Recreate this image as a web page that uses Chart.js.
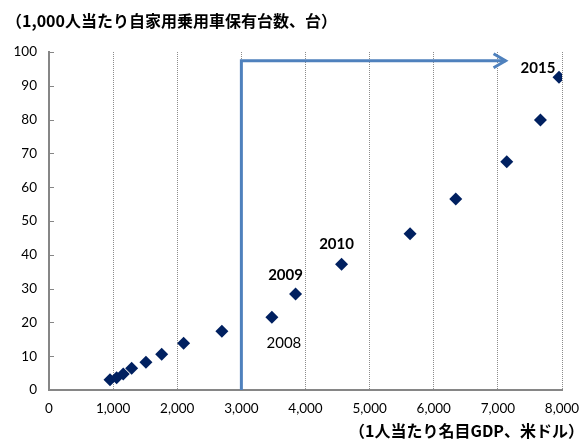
<!DOCTYPE html>
<html>
<head>
<meta charset="utf-8">
<script src="https://cdn.jsdelivr.net/npm/chart.js@4/dist/chart.umd.min.js"></script>
<style>
  html, body { margin: 0; padding: 0; background: #fff; }
  #wrap { width: 579px; height: 439px; }
</style>
</head>
<body>
<div id="wrap"><canvas id="c" width="579" height="439"></canvas></div>
<script>
// Per-capita nominal GDP (USD) and private passenger cars per 1,000 people, 2000–2015
const years = [2000, 2001, 2002, 2003, 2004, 2005, 2006, 2007, 2008, 2009, 2010, 2011, 2012, 2013, 2014, 2015];
const gdpPerCapita = [951, 1055, 1158, 1289, 1512, 1757, 2099, 2696, 3476, 3845, 4562, 5631, 6343, 7138, 7664, 7953];
const carsPer1000 = [3.0, 3.6, 4.7, 6.4, 8.2, 10.6, 13.8, 17.4, 21.5, 28.4, 37.2, 46.2, 56.5, 67.5, 79.9, 92.5];

// Years that carry a text label next to their marker
const labelledYears = [2008, 2009, 2010, 2015];
const boldYears = [2009, 2010, 2015];

// Guide arrow: up from 3,000 USD, then across to the right
const arrowX = [3000, 3000, 7120];
const arrowY = [0, 97.4, 97.4];

// Axis ranges and tick steps
const xRange = [0, 8000];
const xStep = 1000;
const yRange = [0, 100];
const yStep = 10;

const yTitle = '（1,000人当たり自家用乗用車保有台数、台）';
const xTitle = '（1人当たり名目GDP、米ドル）';

const NAVY = '#002060';
const BLUE = '#4f81bd';
const AXIS = '#868686';
const LATIN = 'Lato, "Liberation Sans", sans-serif';
const CJK = '"Noto Sans CJK JP", "Noto Sans", sans-serif';

const points = gdpPerCapita.map((x, i) => ({ x, y: carsPer1000[i] }));
const arrowPts = arrowX.map((x, i) => ({ x, y: arrowY[i] }));

// Year label placement relative to the marker (pixels)
const labelOffset = { 2008: [12, 26], 2009: [-10, -19], 2010: [-5, -20], 2015: [-21, -9] };

const decorations = {
  id: 'decorations',
  afterDraw(chart) {
    const { ctx, scales } = chart;
    const xs = scales.x, ys = scales.y;
    ctx.save();

    // inward tick marks on the value axis
    ctx.strokeStyle = AXIS;
    ctx.lineWidth = 1;
    for (let v = yRange[0] + yStep; v <= yRange[1]; v += yStep) {
      const py = Math.round(ys.getPixelForValue(v)) + 0.5;
      ctx.beginPath();
      ctx.moveTo(xs.left, py);
      ctx.lineTo(xs.left + 5, py);
      ctx.stroke();
    }

    // open arrowhead at the end of the guide line
    const meta = chart.getDatasetMeta(0);
    const tip = meta.data[meta.data.length - 1];
    ctx.strokeStyle = BLUE;
    ctx.lineWidth = 3;
    ctx.lineJoin = 'miter';
    ctx.beginPath();
    ctx.moveTo(tip.x - 12, tip.y - 7);
    ctx.lineTo(tip.x, tip.y);
    ctx.lineTo(tip.x - 12, tip.y + 7);
    ctx.stroke();

    // year labels
    const pmeta = chart.getDatasetMeta(1);
    ctx.fillStyle = '#000';
    ctx.textAlign = 'center';
    ctx.textBaseline = 'middle';
    labelledYears.forEach(yr => {
      const idx = years.indexOf(yr);
      const el = pmeta.data[idx];
      const off = labelOffset[yr];
      ctx.font = (boldYears.includes(yr) ? 'bold ' : '') + '15px ' + LATIN;
      ctx.fillText(String(yr), el.x + off[0], el.y + off[1]);
    });

    // axis titles
    ctx.font = 'bold 16px ' + CJK;
    ctx.textAlign = 'left';
    ctx.fillText(yTitle, 6, 21);
    ctx.textAlign = 'right';
    ctx.fillText(xTitle, 584, 431);
    ctx.restore();
  }
};

new Chart(document.getElementById('c'), {
  type: 'scatter',
  data: {
    datasets: [
      {
        data: arrowPts,
        showLine: true,
        borderColor: BLUE,
        borderWidth: 3,
        pointRadius: 0,
        fill: false,
        tension: 0,
        order: 2
      },
      {
        data: points,
        pointStyle: 'rectRot',
        pointRadius: 6.5,
        backgroundColor: NAVY,
        borderColor: NAVY,
        borderWidth: 0,
        order: 1
      }
    ]
  },
  options: {
    responsive: false,
    devicePixelRatio: 1,
    animation: false,
    layout: { padding: { left: 0, right: 17, top: 52, bottom: 0 } },
    plugins: { legend: { display: false }, tooltip: { enabled: false } },
    scales: {
      x: {
        type: 'linear',
        min: xRange[0],
        max: xRange[1],
        afterFit(s) { s.height = 49; s.paddingLeft = 0; s.paddingRight = 0; },
        ticks: {
          stepSize: xStep,
          padding: 11,
          color: '#000',
          font: { family: LATIN, size: 13.5 },
          maxRotation: 0,
          callback: v => v.toLocaleString('en-US')
        },
        grid: {
          drawTicks: false,
          lineWidth: 1,
          color: ctx => (ctx.tick && ctx.tick.value === 0) ? 'rgba(0,0,0,0)' : '#8c8c8c'
        },
        border: { display: true, color: AXIS, width: 2, dash: [1, 1] }
      },
      y: {
        type: 'linear',
        min: yRange[0],
        max: yRange[1],
        afterFit(s) { s.width = 49; s.paddingTop = 0; s.paddingBottom = 0; },
        ticks: {
          stepSize: yStep,
          padding: 12,
          color: '#000',
          font: { family: LATIN, size: 13.5 }
        },
        grid: { drawOnChartArea: false, drawTicks: false },
        border: { display: true, color: AXIS, width: 2 }
      }
    }
  },
  plugins: [decorations]
});
</script>
</body>
</html>
